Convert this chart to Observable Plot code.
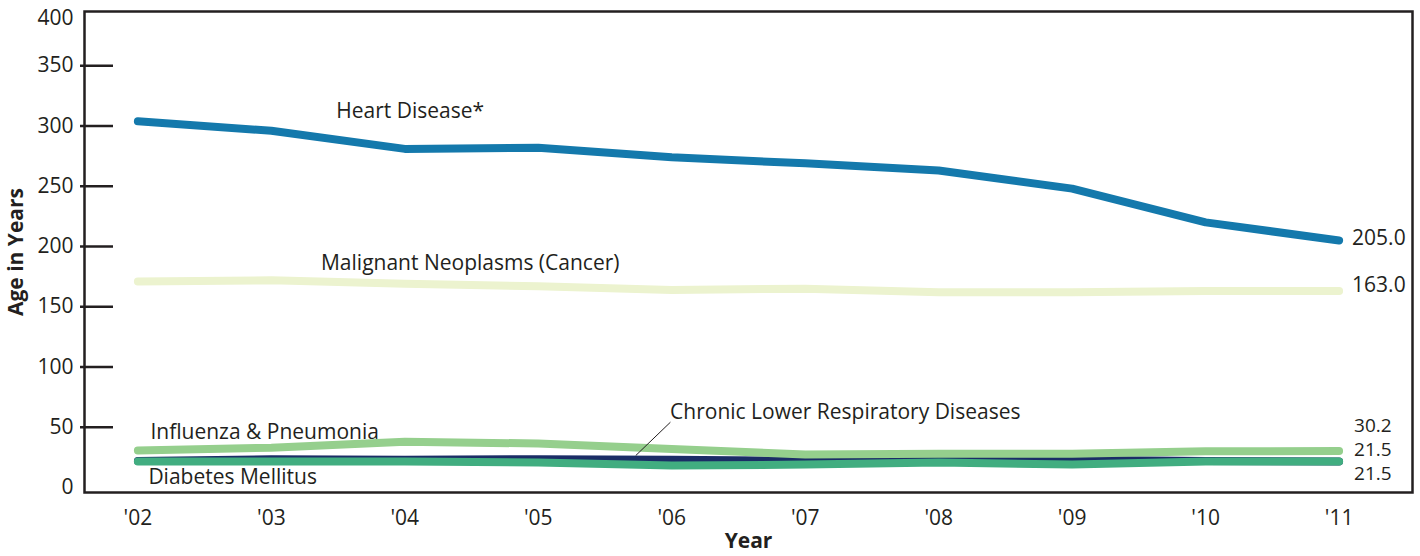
<!DOCTYPE html>
<html>
<head>
<meta charset="utf-8">
<script src="https://cdn.jsdelivr.net/npm/d3@7"></script>
<script src="https://cdn.jsdelivr.net/npm/@observablehq/plot@0.6"></script>
<style>
  html, body { margin: 0; padding: 0; background: #fff; }
  #chart svg { display: block; }
  #chart g[aria-label="x-axis label"] text,
  #chart g[aria-label="y-axis label"] text { font-weight: bold; }
</style>
</head>
<body>
<div id="chart"></div>
<script>
const years = [2002, 2003, 2004, 2005, 2006, 2007, 2008, 2009, 2010, 2011];
const yTicks = [0, 50, 100, 150, 200, 250, 300, 350];
const yTopTick = [400];
const seriesNames = ["Heart Disease*", "Malignant Neoplasms (Cancer)", "Chronic Lower Respiratory Diseases", "Influenza & Pneumonia", "Diabetes Mellitus"];
const heart    = [304, 296, 281, 282, 274, 269, 263, 248, 220, 205];
const cancer   = [171, 172, 169, 167, 164, 165, 162, 162, 163, 163];
const clrd     = [22, 23.5, 23, 23.5, 23, 22, 22.5, 23, 22, 21.5];
const flu      = [30.7, 33, 38, 36.5, 32, 27.4, 28, 28, 30, 30.2];
const diabetes = [21.5, 21.5, 21.5, 20.7, 18.2, 19, 20.7, 19, 21.5, 21.5];
const endLabels = ["205.0", "163.0", "30.2", "21.5", "21.5"];

const colors = {
  "Heart Disease*": "#1479ac",
  "Malignant Neoplasms (Cancer)": "#ecf3cf",
  "Chronic Lower Respiratory Diseases": "#1b2d66",
  "Influenza & Pneumonia": "#95cf8d",
  "Diabetes Mellitus": "#41ad80"
};
const seriesValues = [heart, cancer, clrd, flu, diabetes];
const rows = seriesNames.flatMap((name, i) => years.map((yr, j) => ({series: name, year: yr, value: seriesValues[i][j]})));

// annotation placement (layout, not data)
const nameLabels = [
  {text: "Heart Disease*", x: 2004.04, y: 312},
  {text: "Malignant Neoplasms (Cancer)", x: 2004.49, y: 185.7},
  {text: "Influenza & Pneumonia", x: 2002.95, y: 46},
  {text: "Diabetes Mellitus", x: 2002.71, y: 8.3},
  {text: "Chronic Lower Respiratory Diseases", x: 2007.3, y: 62.2}
];
const endLabelPos = [207, 167.5, 51.4, 31.5, 11.6].map((y, i) => ({text: endLabels[i], x: 2011, y}));
const leader = [{x1: 2005.73, y1: 26.5, x2: 2005.99, y2: 54.2}];

const ink = "#231f20";
const font = "'Open Sans', sans-serif";

const chart = Plot.plot({
  width: 1420,
  height: 556,
  marginLeft: 84,
  marginRight: 8,
  marginTop: 11,
  marginBottom: 64,
  style: {fontFamily: font, fontSize: "20px", color: ink, background: "#fff"},
  x: {domain: [2001.6, 2011.55]},
  y: {domain: [0, 400], range: [487, 5]},
  marks: [
    Plot.axisY({ticks: [50, 100, 150, 200, 250, 300, 350], tickSize: 33, dx: 29, fill: "none", stroke: ink, strokeWidth: 2.5, label: null}),
    Plot.axisY({ticks: yTicks, tickSize: 0, tickPadding: 11, fill: ink, fontSize: 21, label: "Age in Years", labelAnchor: "center", labelOffset: 76, labelArrow: "none"}),
    Plot.axisY({ticks: yTopTick, tickSize: 0, tickPadding: 11, dy: 13, fill: ink, fontSize: 21, label: null}),
    Plot.axisX({ticks: years, tickSize: 0, tickPadding: 18, tickFormat: d => "'" + String(d).slice(2), fill: ink, fontSize: 21, label: "Year", labelAnchor: "center", labelOffset: 55, labelArrow: "none"}),
    Plot.frame({stroke: ink, strokeWidth: 2.5}),
    Plot.line(rows, {x: "year", y: "value", z: "series", stroke: d => colors[d.series], strokeWidth: 8, strokeLinecap: "round", strokeLinejoin: "round"}),
    Plot.link(leader, {x1: "x1", y1: "y1", x2: "x2", y2: "y2", stroke: ink, strokeWidth: 1}),
    Plot.text(nameLabels, {x: "x", y: "y", text: "text", fill: ink, fontSize: 21, textAnchor: "middle"}),
    Plot.text(endLabelPos.slice(0, 2), {x: "x", y: "y", text: "text", fill: ink, fontSize: 21, textAnchor: "start", dx: 13}),
    Plot.text(endLabelPos.slice(2), {x: "x", y: "y", text: "text", fill: ink, fontSize: 19, textAnchor: "start", dx: 15})
  ]
});
document.getElementById("chart").appendChild(chart);
</script>
</body>
</html>
